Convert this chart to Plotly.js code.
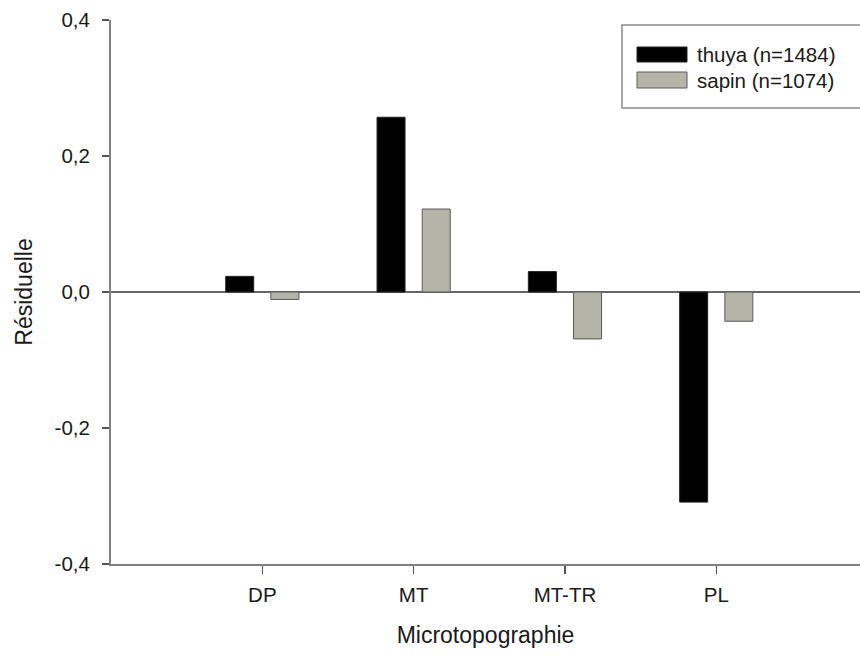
<!DOCTYPE html>
<html>
<head>
<meta charset="utf-8">
<script src="https://cdn.plot.ly/plotly-3.0.1.min.js"></script>
<style>
  html, body { margin: 0; padding: 0; background: #ffffff; }
  #chart { width: 860px; height: 656px; }
</style>
</head>
<body>
<div id="chart"></div>
<script>
// ---- Data ----
var categories = ["DP", "MT", "MT-TR", "PL"];
var seriesNames = ["thuya (n=1484)", "sapin (n=1074)"];
var thuyaValues = [0.023, 0.257, 0.030, -0.309];
var sapinValues = [-0.011, 0.122, -0.069, -0.043];
var yTickValues = [-0.4, -0.2, 0.0, 0.2, 0.4];
var yTickLabels = ["-0,4", "-0,2", "0,0", "0,2", "0,4"];
var xTitle = "Microtopographie";
var yTitle = "Résiduelle";

// ---- Layout helpers ----
var W = 860, H = 656;
var M = { l: 111, r: 0, t: 20, b: 92 };
var plotW = W - M.l - M.r, plotH = H - M.t - M.b;
function px(x) { return (x - M.l) / plotW; }
function py(y) { return (H - M.b - y) / plotH; }

var fontFam = "Arial, 'Liberation Sans', Helvetica, sans-serif";
var textColor = "#1a1a1a";
var thuyaColor = "#000000";
var sapinColor = "#b4b4a8";

var traces = [
  {
    type: "bar", name: seriesNames[0], x: categories, y: thuyaValues,
    marker: { color: thuyaColor, line: { color: "#222222", width: 1 } },
    hoverinfo: "x+y"
  },
  {
    type: "bar", name: seriesNames[1], x: categories, y: sapinValues,
    marker: { color: sapinColor, line: { color: "#5a5a5a", width: 1 } },
    hoverinfo: "x+y"
  }
];

// custom legend (wide swatches like the reference)
var shapes = [
  { type: "rect", xref: "paper", yref: "paper",
    x0: px(622), x1: px(868), y0: py(108), y1: py(25),
    line: { color: "#8a8a8a", width: 1.5 }, fillcolor: "rgba(255,255,255,1)", layer: "above" },
  { type: "rect", xref: "paper", yref: "paper",
    x0: px(637), x1: px(687), y0: py(62), y1: py(47),
    line: { color: "#222222", width: 1 }, fillcolor: thuyaColor, layer: "above" },
  { type: "rect", xref: "paper", yref: "paper",
    x0: px(637), x1: px(687), y0: py(88), y1: py(72),
    line: { color: "#5a5a5a", width: 1 }, fillcolor: sapinColor, layer: "above" }
];
var annotations = [
  { xref: "paper", yref: "paper", x: px(695), y: py(54.5), xanchor: "left", yanchor: "middle",
    text: seriesNames[0], showarrow: false, font: { family: fontFam, size: 20.5, color: textColor } },
  { xref: "paper", yref: "paper", x: px(695), y: py(80), xanchor: "left", yanchor: "middle",
    text: seriesNames[1], showarrow: false, font: { family: fontFam, size: 20.5, color: textColor } }
];

var layout = {
  width: W, height: H,
  margin: M,
  paper_bgcolor: "#ffffff", plot_bgcolor: "#ffffff",
  showlegend: false,
  barmode: "group",
  bargap: 0.403,
  bargroupgap: 0.38,
  font: { family: fontFam, size: 20, color: textColor },
  xaxis: {
    type: "category",
    range: [-1, 3.95],
    showgrid: false, zeroline: false,
    showline: true, linecolor: "#808080", linewidth: 2,
    ticks: "outside", ticklen: 8, tickwidth: 1.5, tickcolor: "#555555",
    ticklabelstandoff: 3,
    tickfont: { family: fontFam, size: 20.5, color: textColor },
    title: { text: xTitle, font: { family: fontFam, size: 23, color: textColor }, standoff: 22 }
  },
  yaxis: {
    range: [-0.4, 0.4],
    tickvals: yTickValues, ticktext: yTickLabels,
    showgrid: false,
    zeroline: true, zerolinecolor: "#666666", zerolinewidth: 1.5,
    showline: true, linecolor: "#808080", linewidth: 2,
    ticks: "outside", ticklen: 7, tickwidth: 1.5, tickcolor: "#555555",
    ticklabelstandoff: 8,
    tickfont: { family: fontFam, size: 20.5, color: textColor },
    title: { text: yTitle, font: { family: fontFam, size: 23, color: textColor }, standoff: 16 }
  },
  shapes: shapes,
  annotations: annotations
};

Plotly.newPlot("chart", traces, layout, { displayModeBar: false, staticPlot: true });
</script>
</body>
</html>
